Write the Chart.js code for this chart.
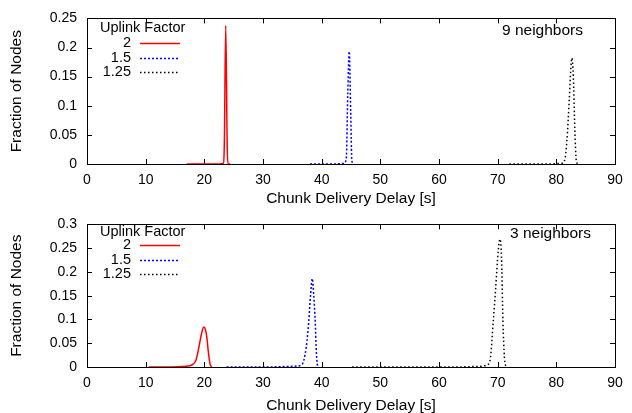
<!DOCTYPE html>
<html>
<head>
<meta charset="utf-8">
<script src="https://cdn.jsdelivr.net/npm/chart.js@4"></script>
<style>
  body { margin: 0; background: #fff; }
  .wrap { position: absolute; left: 0; width: 632px; }
</style>
</head>
<body>
<div class="wrap" style="top:0;height:206px"><canvas id="topChart"></canvas></div>
<div class="wrap" style="top:206px;height:207px"><canvas id="bottomChart"></canvas></div>
<script>
// uplink factors (legend order)
const factorLabels = ['2', '1.5', '1.25'];
const xTicks = [0, 10, 20, 30, 40, 50, 60, 70, 80, 90];
const yTicksTop = [0, 0.05, 0.1, 0.15, 0.2, 0.25];
const yTicksBottom = [0, 0.05, 0.1, 0.15, 0.2, 0.25, 0.3];

// 9 neighbors
const top2X = [17, 22, 23.2, 23.4, 23.65, 23.9, 24.05, 24.4];
const top2Y = [0, 0, 0.001, 0.03, 0.238, 0.03, 0, 0];
const top15X = [38, 42, 43.8, 44.2, 44.45, 44.7, 44.95, 45.15, 45.5];
const top15Y = [0, 0, 0.001, 0.01, 0.12, 0.193, 0.09, 0.005, 0];
const top125X = [72, 78, 80.8, 81.4, 81.8, 82.2, 82.45, 82.65, 82.9, 83.15, 83.4, 83.7];
const top125Y = [0, 0, 0.001, 0.006, 0.04, 0.11, 0.16, 0.182, 0.15, 0.06, 0.006, 0];

// 3 neighbors
const bot2X = [10.5, 14, 16, 17.3, 18.1, 18.6, 18.9, 19.2, 19.5, 19.9, 20.2, 20.4, 20.7, 21.0, 21.3];
const bot2Y = [0, 0, 0.001, 0.002, 0.006, 0.015, 0.031, 0.05, 0.069, 0.084, 0.078, 0.065, 0.03, 0.005, 0];
const bot15X = [23.8, 30, 34, 35.8, 36.7, 37.2, 37.5, 37.8, 38.1, 38.4, 38.65, 38.9, 39.1, 39.3];
const bot15Y = [0, 0, 0.001, 0.002, 0.006, 0.028, 0.055, 0.096, 0.15, 0.186, 0.15, 0.096, 0.03, 0];
const bot125X = [45.2, 55, 62, 66, 67.5, 68.1, 68.7, 69.25, 69.65, 70.1, 70.4, 70.65, 70.9, 71.15, 71.4, 71.6];
const bot125Y = [0, 0, 0, 0.001, 0.002, 0.004, 0.014, 0.096, 0.164, 0.245, 0.269, 0.232, 0.096, 0.02, 0.002, 0];

const FONT = 'Liberation Sans, Arial, Helvetica, sans-serif';
const styles = [
  { color: '#ff0000', dash: [] },
  { color: '#0000ff', dash: [2, 2] },
  { color: '#000000', dash: [1.5, 2.5] }
];

function pts(xs, ys) {
  return xs.map((x, i) => ({ x: x, y: ys[i] }));
}

// gnuplot style box with inward ticks on all sides
const frame = {
  id: 'frame',
  beforeDatasetsDraw(chart) {
    const { ctx, chartArea: a, scales: { x, y } } = chart;
    ctx.save();
    ctx.strokeStyle = '#000';
    ctx.lineWidth = 1;
    ctx.beginPath();
    x.ticks.forEach(t => {
      const px = Math.round(x.getPixelForValue(t.value)) + 0.5;
      ctx.moveTo(px, a.bottom); ctx.lineTo(px, a.bottom - 5);
      ctx.moveTo(px, a.top); ctx.lineTo(px, a.top + 5);
    });
    y.ticks.forEach(t => {
      const py = Math.round(y.getPixelForValue(t.value)) + 0.5;
      ctx.moveTo(a.left, py); ctx.lineTo(a.left + 5, py);
      ctx.moveTo(a.right, py); ctx.lineTo(a.right - 5, py);
    });
    ctx.stroke();
    ctx.strokeRect(Math.round(a.left) + 0.5, Math.round(a.top) + 0.5,
      Math.round(a.right - a.left), Math.round(a.bottom - a.top));
    ctx.restore();
  }
};

// legend + note, drawn like the gnuplot key
const keyBox = {
  id: 'keyBox',
  afterDraw(chart, args, opts) {
    const ctx = chart.ctx;
    ctx.save();
    ctx.fillStyle = '#000';
    ctx.textBaseline = 'middle';
    ctx.textAlign = 'left';
    ctx.font = '14.5px ' + FONT;
    ctx.fillText('Uplink Factor', 100, opts.titleY);
    ctx.font = '15.5px ' + FONT;
    ctx.fillText(opts.note, opts.noteX, opts.noteY);
    ctx.font = '14.5px ' + FONT;
    chart.data.datasets.forEach((ds, i) => {
      const yy = opts.rowY + i * 14.5;
      ctx.textAlign = 'right';
      ctx.fillStyle = '#000';
      ctx.fillText(ds.label, 131, yy);
      ctx.beginPath();
      ctx.strokeStyle = ds.borderColor;
      ctx.lineWidth = ds.borderWidth;
      ctx.setLineDash(ds.borderDash || []);
      ctx.moveTo(140, Math.round(yy) + 0.5);
      ctx.lineTo(180, Math.round(yy) + 0.5);
      ctx.stroke();
    });
    ctx.restore();
  }
};

function fmt(v) {
  return String(+Number(v).toFixed(2));
}

function drawChart(id, series, yTicks, cfg) {
  const ctx = document.getElementById(id).getContext('2d');
  return new Chart(ctx, {
    type: 'line',
    data: {
      datasets: series.map((s, i) => ({
        label: factorLabels[i],
        data: s,
        borderColor: styles[i].color,
        borderDash: styles[i].dash,
        borderWidth: 1.5,
        pointRadius: 0,
        fill: false,
        cubicInterpolationMode: 'monotone'
      }))
    },
    options: {
      responsive: true,
      maintainAspectRatio: false,
      animation: false,
      layout: { padding: { top: cfg.padTop, right: 17, left: 0, bottom: 0 } },
      plugins: {
        legend: { display: false },
        tooltip: { enabled: false },
        keyBox: cfg.key
      },
      scales: {
        x: {
          type: 'linear',
          min: 0, max: 90,
          afterBuildTicks: s => { s.ticks = xTicks.map(v => ({ value: v })); },
          afterFit: s => { s.height = cfg.xHeight; },
          grid: { display: false, drawTicks: false },
          border: { display: false },
          ticks: { padding: 8, color: '#000', font: { family: FONT, size: 14 }, maxRotation: 0, callback: fmt },
          title: { display: true, text: 'Chunk Delivery Delay [s]', color: '#000', font: { family: FONT, size: 15.5, lineHeight: 1 }, padding: 0 }
        },
        y: {
          min: 0, max: yTicks[yTicks.length - 1],
          afterBuildTicks: s => { s.ticks = yTicks.map(v => ({ value: v })); },
          afterFit: s => { s.width = 87; },
          grid: { display: false, drawTicks: false },
          border: { display: false },
          ticks: { padding: 10, color: '#000', font: { family: FONT, size: 14 }, callback: fmt },
          title: { display: true, text: 'Fraction of Nodes', color: '#000', font: { family: FONT, size: 15.5, lineHeight: 1 }, padding: { top: 9, bottom: 0 } }
        }
      }
    },
    plugins: [frame, keyBox]
  });
}

drawChart('topChart',
  [pts(top2X, top2Y), pts(top15X, top15Y), pts(top125X, top125Y)],
  yTicksTop,
  { padTop: 16, xHeight: 42, key: { titleY: 28, rowY: 43, note: '9 neighbors', noteX: 502, noteY: 31 } });

drawChart('bottomChart',
  [pts(bot2X, bot2Y), pts(bot15X, bot15Y), pts(bot125X, bot125Y)],
  yTicksBottom,
  { padTop: 14, xHeight: 46, key: { titleY: 26, rowY: 39, note: '3 neighbors', noteX: 510, noteY: 28 } });
</script>
</body>
</html>
